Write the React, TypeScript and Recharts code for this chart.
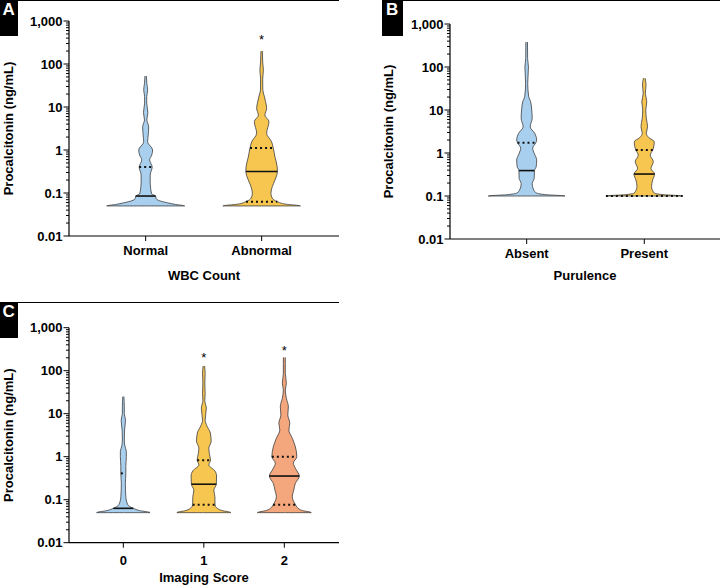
import React from "react";
import { Area, ComposedChart, ReferenceDot, ReferenceLine, XAxis, YAxis } from "recharts";

const FONT = "'Liberation Sans', Arial, Helvetica, sans-serif";
const OUTLINE = "#3c3c3c";
const BLUE = "#a9cfee";
const YELLOW = "#f6c651";
const SALMON = "#f4a67d";

// y axis: log scale, labelled decades plus minor ticks
const Y_MAJOR = [0.01, 0.1, 1, 10, 100, 1000];
const Y_MAJOR_LABELS = ["0.01", "0.1", "1", "10", "100", "1,000"];
const Y_DECADES = [0.01, 0.1, 1, 10, 100];
const Y_MINOR_STEPS = [1, 2, 3, 4, 5, 6, 7, 8, 9];

// Panel A - WBC count
const A_CATEGORIES = ["Normal", "Abnormal"];
const A_NORMAL_LEVELS = [0.05, 0.054, 0.059, 0.066, 0.074, 0.085, 0.095, 0.129, 0.182, 0.263, 0.4, 0.589, 0.759, 1.0, 1.55, 2.24, 3.47, 5.01, 7.41, 12.3, 17.4, 25.1, 35.5, 52.5];
const A_NORMAL_HALF = [0.336, 0.26, 0.19, 0.12, 0.09, 0.086, 0.052, 0.043, 0.039, 0.039, 0.056, 0.034, 0.052, 0.06, 0.017, 0.022, 0.026, 0.01, 0.019, 0.009, 0.009, 0.017, 0.01, 0.006];
const A_NORMAL_MEDIAN = [0.085, 0.086];
const A_NORMAL_QUARTILES = [[0.4, 0.056]];

const A_ABNORMAL_LEVELS = [0.05, 0.055, 0.063, 0.076, 0.098, 0.141, 0.2, 0.316, 0.41, 0.69, 1.12, 1.55, 2.45, 4.57, 6.46, 9.33, 13.2, 17.8, 25, 44.7, 70.8, 112, 200];
const A_ABNORMAL_HALF = [0.334, 0.207, 0.135, 0.091, 0.08, 0.092, 0.115, 0.136, 0.134, 0.115, 0.1, 0.086, 0.043, 0.063, 0.028, 0.043, 0.034, 0.023, 0.01, 0.009, 0.015, 0.009, 0.006];
const A_ABNORMAL_MEDIAN = [0.316, 0.136];
const A_ABNORMAL_QUARTILES = [[0.063, 0.135], [1.12, 0.1]];
const A_STARS = [[2, 427]];

// Panel B - purulence
const B_CATEGORIES = ["Absent", "Present"];
const B_ABSENT_LEVELS = [0.1, 0.107, 0.117, 0.138, 0.195, 0.257, 0.39, 0.48, 0.69, 0.98, 1.29, 1.74, 2.0, 2.88, 4.07, 6.46, 10, 15.5, 20.4, 41.7, 100, 158, 380];
const B_ABSENT_HALF = [0.326, 0.17, 0.085, 0.06, 0.047, 0.064, 0.066, 0.081, 0.085, 0.064, 0.051, 0.078, 0.085, 0.068, 0.03, 0.047, 0.043, 0.034, 0.017, 0.009, 0.015, 0.008, 0.007];
const B_ABSENT_MEDIAN = [0.39, 0.066];
const B_ABSENT_QUARTILES = [[1.74, 0.078]];

const B_PRESENT_LEVELS = [0.1, 0.107, 0.117, 0.166, 0.234, 0.324, 0.437, 0.63, 0.89, 1.17, 1.82, 2.29, 2.88, 4.07, 6.46, 10, 15.5, 24.5, 38, 55];
const B_PRESENT_HALF = [0.326, 0.17, 0.085, 0.062, 0.071, 0.088, 0.057, 0.077, 0.051, 0.072, 0.085, 0.038, 0.017, 0.028, 0.017, 0.013, 0.021, 0.009, 0.015, 0.007];
const B_PRESENT_MEDIAN = [0.324, 0.088];
const B_PRESENT_QUARTILES = [[0.1, 0.326], [1.17, 0.072]];

// Panel C - imaging score
const C_CATEGORIES = ["0", "1", "2"];
const C_ZERO_LEVELS = [0.05, 0.056, 0.063, 0.076, 0.117, 0.24, 0.41, 0.59, 1.0, 1.32, 1.78, 2.45, 4.17, 7.08, 10, 14.5, 25];
const C_ZERO_HALF = [0.332, 0.199, 0.124, 0.056, 0.031, 0.025, 0.031, 0.031, 0.037, 0.037, 0.019, 0.012, 0.015, 0.027, 0.012, 0.012, 0.007];
const C_ZERO_MEDIAN = [0.063, 0.124];
const C_ZERO_QUARTILES = [[0.41, 0.031]];

const C_ONE_LEVELS = [0.05, 0.056, 0.066, 0.076, 0.117, 0.166, 0.229, 0.355, 0.468, 0.646, 0.832, 1.2, 1.58, 2.29, 3.55, 5.25, 7.08, 13.5, 20, 29.5, 51.3, 87.1, 129];
const C_ONE_HALF = [0.335, 0.224, 0.155, 0.139, 0.137, 0.124, 0.155, 0.158, 0.137, 0.062, 0.083, 0.068, 0.062, 0.091, 0.081, 0.037, 0.016, 0.031, 0.012, 0.016, 0.012, 0.016, 0.009];
const C_ONE_MEDIAN = [0.229, 0.155];
const C_ONE_QUARTILES = [[0.076, 0.139], [0.832, 0.083]];

const C_TWO_LEVELS = [0.05, 0.056, 0.066, 0.076, 0.117, 0.17, 0.24, 0.355, 0.537, 0.708, 1.0, 1.7, 2.69, 4.17, 6.03, 9.33, 14.5, 22.9, 35.5, 51.3, 87.1, 148, 204];
const C_TWO_HALF = [0.335, 0.224, 0.161, 0.139, 0.099, 0.118, 0.137, 0.186, 0.137, 0.112, 0.155, 0.137, 0.099, 0.056, 0.068, 0.043, 0.05, 0.025, 0.012, 0.025, 0.012, 0.012, 0.012];
const C_TWO_MEDIAN = [0.355, 0.186];
const C_TWO_QUARTILES = [[0.076, 0.139], [1.0, 0.155]];
const C_STARS = [[1, 245], [2, 347]];

const Y_TICKS = [...Y_DECADES.flatMap((d) => Y_MINOR_STEPS.map((m) => d * m)), 1000];

type Violin = {
  pos: number;
  levels: number[];
  half: number[];
  median: number[];
  quartiles: number[][];
  fill: string;
};

// outline rows: a zero-width row at the floor so the flat bottom gets stroked too
function violinRows(pos: number, levels: number[], half: number[]) {
  const rows = [{ v: levels[0], band: [pos, pos] }];
  levels.forEach((v, i) => rows.push({ v, band: [pos - half[i], pos + half[i]] }));
  return rows;
}

function LogTick(props: any) {
  const { x, y, payload } = props;
  const idx = Y_MAJOR.indexOf(payload.value);
  const major = idx >= 0;
  return (
    <g>
      <line x1={x - (major ? 5.5 : 3)} x2={x} y1={y} y2={y} stroke="#000" strokeWidth={1} />
      {major && (
        <text x={x - 6.5} y={y} dy="0.355em" textAnchor="end" fill="#000" fontSize={13} fontWeight={700} fontFamily={FONT}>
          {Y_MAJOR_LABELS[idx]}
        </text>
      )}
    </g>
  );
}

interface PanelProps {
  left: number;
  top: number;
  width: number;
  height: number;
  plotTop: number;
  plotLeft: number;
  plotRight: number;
  xDomain: [number, number];
  positions: number[];
  categories: string[];
  violins: Violin[];
  stars: number[][];
  xTitle: string;
  tickMargin: number;
  xTitleOffset: number;
  yTitleX: number;
}

function ViolinPanel(p: PanelProps) {
  const plotHeight = 215;
  const xAxisHeight = p.height - p.plotTop - plotHeight;
  return (
    <div style={{ position: "absolute", left: p.left, top: p.top }}>
      <ComposedChart
        width={p.width}
        height={p.height}
        layout="vertical"
        margin={{ top: p.plotTop, right: p.width - p.plotRight, bottom: 0, left: 0 }}
        style={{ fontFamily: FONT }}
      >
        <XAxis
          type="number"
          domain={p.xDomain}
          allowDataOverflow
          ticks={p.positions}
          interval={0}
          tickFormatter={(v: number) => p.categories[p.positions.indexOf(v)]}
          tick={{ fill: "#000", fontSize: 13, fontWeight: 700, fontFamily: FONT }}
          tickSize={5}
          tickMargin={p.tickMargin}
          axisLine={{ stroke: "#000", strokeWidth: 1.2 }}
          tickLine={{ stroke: "#000", strokeWidth: 1 }}
          height={xAxisHeight}
          label={{
            value: p.xTitle,
            position: "insideBottom",
            offset: p.xTitleOffset,
            fill: "#000",
            fontSize: 13,
            fontWeight: 700,
            fontFamily: FONT,
          }}
        />
        <YAxis
          type="number"
          dataKey="v"
          scale="log"
          reversed
          domain={[0.01, 1000]}
          allowDataOverflow
          ticks={Y_TICKS}
          interval={0}
          tick={(t: any) => <LogTick {...t} />}
          tickLine={false}
          tickSize={0}
          tickMargin={0}
          axisLine={{ stroke: "#000", strokeWidth: 1.2 }}
          width={p.plotLeft}
          label={{
            value: "Procalcitonin (ng/mL)",
            angle: -90,
            position: "insideLeft",
            offset: p.yTitleX,
            fill: "#000",
            fontSize: 13,
            fontWeight: 700,
            fontFamily: FONT,
            style: { textAnchor: "middle" },
          }}
        />
        {p.violins.map((vl, i) => (
          <Area
            key={`violin-${i}`}
            data={violinRows(vl.pos, vl.levels, vl.half)}
            dataKey="band"
            type="monotone"
            fill={vl.fill}
            fillOpacity={1}
            stroke={OUTLINE}
            strokeWidth={0.8}
            dot={false}
            activeDot={false}
            isAnimationActive={false}
          />
        ))}
        {p.violins.flatMap((vl, i) => [
          <ReferenceLine
            key={`median-${i}`}
            segment={[
              { x: vl.pos - vl.median[1], y: vl.median[0] },
              { x: vl.pos + vl.median[1], y: vl.median[0] },
            ]}
            stroke="#111"
            strokeWidth={1.6}
          />,
          ...vl.quartiles.map((q, j) => (
            <ReferenceLine
              key={`quart-${i}-${j}`}
              segment={[
                { x: vl.pos - q[1], y: q[0] },
                { x: vl.pos + q[1], y: q[0] },
              ]}
              stroke="#111"
              strokeWidth={2}
              strokeDasharray="2 3"
            />
          )),
        ])}
        {p.stars.map((s, i) => (
          <ReferenceDot
            key={`star-${i}`}
            x={s[0]}
            y={s[1]}
            r={0}
            shape={(d: any) => (
              <text x={d.cx} y={d.cy} dy="0.58em" textAnchor="middle" fontSize={13} fill="#000" fontFamily={FONT}>
                *
              </text>
            )}
          />
        ))}
      </ComposedChart>
    </div>
  );
}

function Badge({ left, top, width, letter }: { left: number; top: number; width: number; letter: string }) {
  return (
    <div
      style={{
        position: "absolute",
        left,
        top,
        width,
        height: 36,
        background: "#000",
        color: "#fff",
        fontFamily: FONT,
        fontWeight: 700,
        fontSize: 17,
        lineHeight: "20px",
        textAlign: "center",
      }}
    >
      {letter}
    </div>
  );
}

function Rule({ left, top, width }: { left: number; top: number; width: number }) {
  return <div style={{ position: "absolute", left, top, width, height: 1.3, background: "#000" }} />;
}

export default function App() {
  const panelA: Violin[] = [
    { pos: 1, levels: A_NORMAL_LEVELS, half: A_NORMAL_HALF, median: A_NORMAL_MEDIAN, quartiles: A_NORMAL_QUARTILES, fill: BLUE },
    { pos: 2, levels: A_ABNORMAL_LEVELS, half: A_ABNORMAL_HALF, median: A_ABNORMAL_MEDIAN, quartiles: A_ABNORMAL_QUARTILES, fill: YELLOW },
  ];
  const panelB: Violin[] = [
    { pos: 1, levels: B_ABSENT_LEVELS, half: B_ABSENT_HALF, median: B_ABSENT_MEDIAN, quartiles: B_ABSENT_QUARTILES, fill: BLUE },
    { pos: 2, levels: B_PRESENT_LEVELS, half: B_PRESENT_HALF, median: B_PRESENT_MEDIAN, quartiles: B_PRESENT_QUARTILES, fill: YELLOW },
  ];
  const panelC: Violin[] = [
    { pos: 0, levels: C_ZERO_LEVELS, half: C_ZERO_HALF, median: C_ZERO_MEDIAN, quartiles: C_ZERO_QUARTILES, fill: BLUE },
    { pos: 1, levels: C_ONE_LEVELS, half: C_ONE_HALF, median: C_ONE_MEDIAN, quartiles: C_ONE_QUARTILES, fill: YELLOW },
    { pos: 2, levels: C_TWO_LEVELS, half: C_TWO_HALF, median: C_TWO_MEDIAN, quartiles: C_TWO_QUARTILES, fill: SALMON },
  ];

  return (
    <div style={{ position: "absolute", left: 0, top: 0, width: 720, height: 586, background: "#fff", overflow: "hidden" }}>
      <Rule left={0} top={0} width={339} />
      <Rule left={382} top={0} width={338} />
      <Rule left={0} top={301.5} width={339} />
      <Badge left={0} top={0} width={17.5} letter="A" />
      <Badge left={381.7} top={0} width={21} letter="B" />
      <Badge left={0} top={302} width={17.5} letter="C" />
      <ViolinPanel
        left={0}
        top={0}
        width={355}
        height={295}
        plotTop={21}
        plotLeft={69}
        plotRight={339}
        xDomain={[0.339, 2.667]}
        positions={[1, 2]}
        categories={A_CATEGORIES}
        violins={panelA}
        stars={A_STARS}
        xTitle="WBC Count"
        tickMargin={4.8}
        xTitleOffset={15.3}
        yTitleX={8.3}
      />
      <ViolinPanel
        left={360}
        top={0}
        width={360}
        height={295}
        plotTop={24}
        plotLeft={90}
        plotRight={360}
        xDomain={[0.348, 2.644]}
        positions={[1, 2]}
        categories={B_CATEGORIES}
        violins={panelB}
        stars={[]}
        xTitle="Purulence"
        tickMargin={5.1}
        xTitleOffset={15.3}
        yTitleX={28}
      />
      <ViolinPanel
        left={0}
        top={300}
        width={355}
        height={286}
        plotTop={27.7}
        plotLeft={69}
        plotRight={339}
        xDomain={[-0.675, 2.679]}
        positions={[0, 1, 2]}
        categories={C_CATEGORIES}
        violins={panelC}
        stars={C_STARS}
        xTitle="Imaging Score"
        tickMargin={8.5}
        xTitleOffset={4}
        yTitleX={8.3}
      />
    </div>
  );
}
